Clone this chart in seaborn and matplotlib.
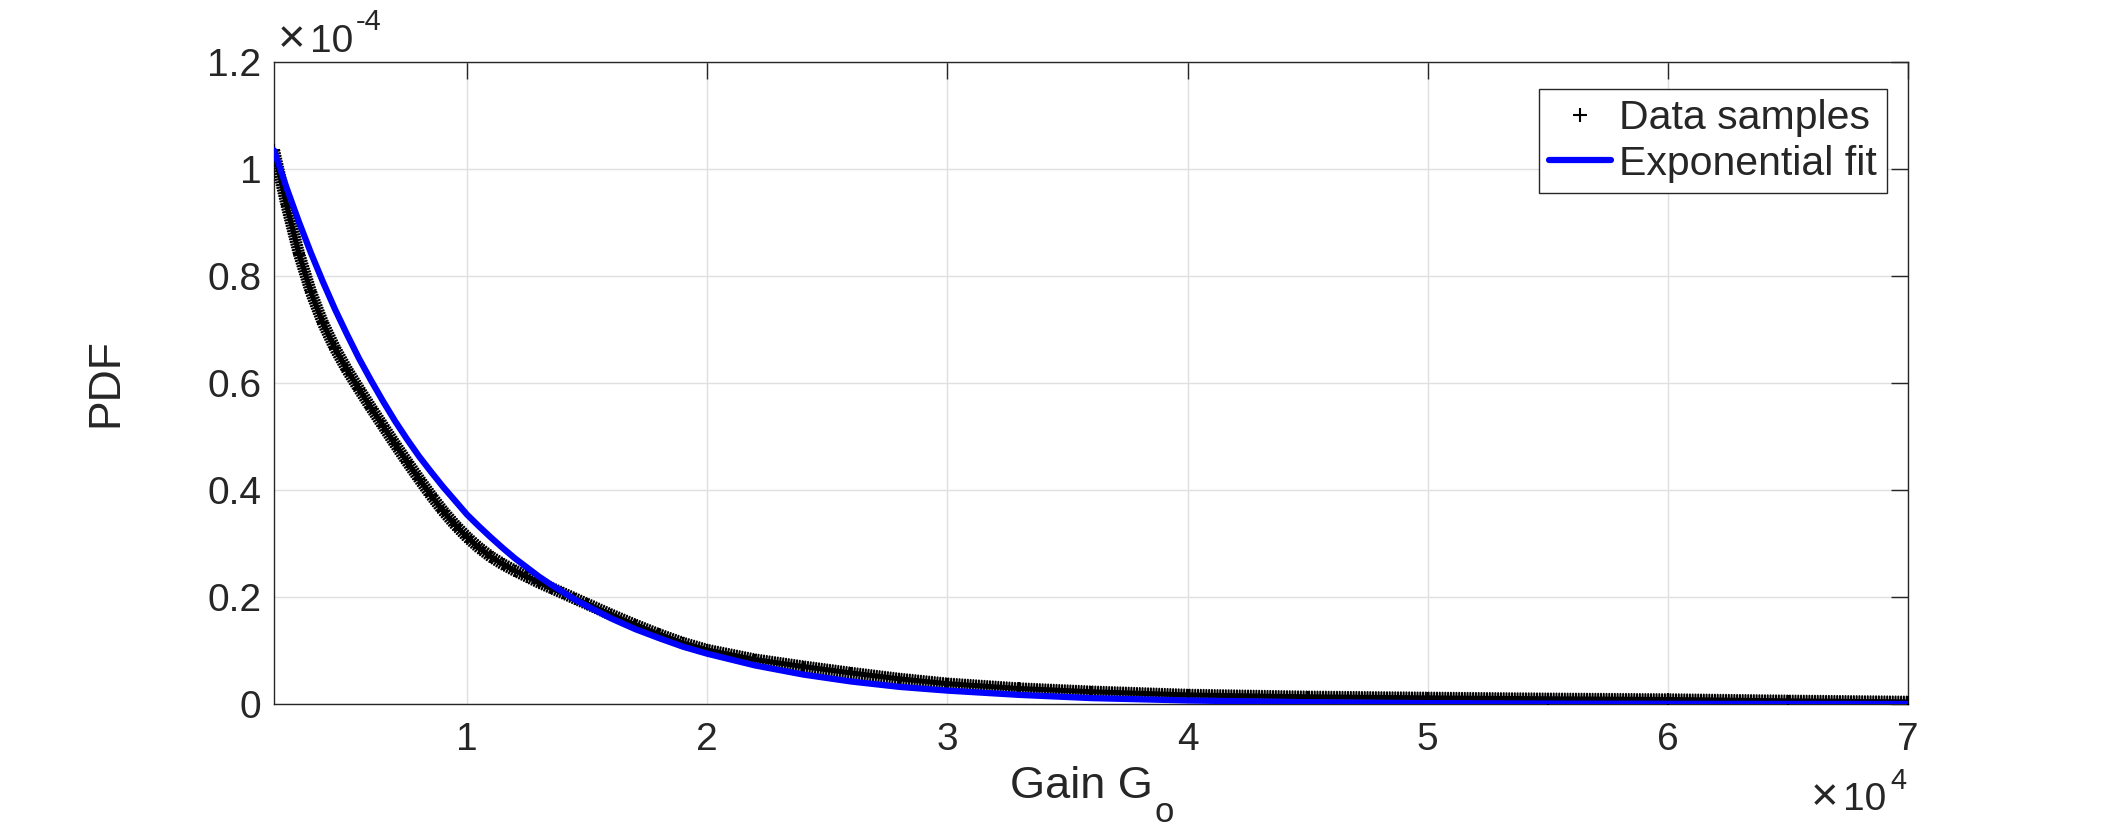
import numpy as np
import matplotlib
matplotlib.use("Agg")
import matplotlib.pyplot as plt
import matplotlib.patheffects as pe
from matplotlib.lines import Line2D
import seaborn as sns

# --- valores (ganancia lineal, PDF en unidades de 1e-4) ---
gain_samples = [1960, 2500, 3000, 3500, 4000, 4500, 5000, 5500, 6000, 6500,
                7000, 7500, 8000, 8500, 9000, 9500, 10000, 10500, 11000, 11500,
                12000, 12500, 13000, 13500, 14000, 14500, 15000, 16000, 17000, 18000,
                19000, 20000, 22000, 24000, 26000, 28000, 30000, 33000, 36000, 40000,
                45000, 50000, 55000, 60000, 65000, 70000]
pdf_samples_e4 = [1.035, 0.930, 0.842, 0.770, 0.712, 0.665, 0.625, 0.589, 0.554, 0.520,
                  0.486, 0.453, 0.421, 0.390, 0.361, 0.335, 0.312, 0.292, 0.275, 0.261,
                  0.249, 0.238, 0.227, 0.217, 0.207, 0.197, 0.187, 0.167, 0.148, 0.130,
                  0.114, 0.101, 0.083, 0.070, 0.058, 0.047, 0.038, 0.029, 0.023, 0.017,
                  0.0135, 0.0115, 0.0098, 0.0085, 0.006, 0.004]
pdf_fit_e4 = [1.035, 0.963, 0.901, 0.843, 0.789, 0.738, 0.691, 0.646, 0.605, 0.566,
              0.529, 0.495, 0.463, 0.434, 0.406, 0.380, 0.354, 0.332, 0.311, 0.291,
              0.272, 0.255, 0.238, 0.223, 0.209, 0.195, 0.183, 0.160, 0.140, 0.123,
              0.107, 0.094, 0.072, 0.055, 0.042, 0.032, 0.025, 0.017, 0.011, 0.0066,
              0.0034, 0.0017, 0.0009, 0.0005, 0.0002, 0.0001]

x_ticks = [1, 2, 3, 4, 5, 6, 7]            # x 1e4
x_tick_labels = ['1', '2', '3', '4', '5', '6', '7']
y_ticks = [0, 0.2, 0.4, 0.6, 0.8, 1.0, 1.2]  # x 1e-4
y_tick_labels = ['0', '0.2', '0.4', '0.6', '0.8', '1', '1.2']

pdf_samples = np.array(pdf_samples_e4) * 1e-4
pdf_fit = np.array(pdf_fit_e4) * 1e-4

# --- estilo tipo MATLAB ---
sns.set_style("white")
plt.rcParams['font.family'] = ['Liberation Sans', 'DejaVu Sans']

gris = '#262626'
fig = plt.figure(figsize=(21.09, 8.30), dpi=100)
ax = fig.add_axes([0.1299, 0.1518, 0.7748, 0.7735])

# banda de muestras: linea con marcas perpendiculares + cruces en los puntos leidos
sns.lineplot(x=gain_samples, y=pdf_samples, color='black', linewidth=1.5,
             errorbar=None, ax=ax, zorder=3,
             path_effects=[pe.Stroke(linewidth=3.6, foreground='black'),
                           pe.TickedStroke(spacing=2.0, angle=90, length=1.9),
                           pe.TickedStroke(spacing=2.0, angle=-90, length=1.9)])
sns.scatterplot(x=gain_samples, y=pdf_samples, marker='+', s=64, color='black',
                linewidth=1.5, ax=ax, zorder=3, legend=False)
sns.lineplot(x=gain_samples, y=pdf_fit, color='blue', linewidth=4.5,
             errorbar=None, ax=ax, zorder=4, solid_capstyle='round')

ax.set_xlim(1960, 70000)
ax.set_ylim(0, 1.2e-4)
ax.set_xticks(np.array(x_ticks) * 1e4)
ax.set_xticklabels(x_tick_labels)
ax.set_yticks(np.array(y_ticks) * 1e-4)
ax.set_yticklabels(y_tick_labels)

ax.set_axisbelow(True)
ax.grid(True, color='#e0e0e0', linewidth=1.0)
for s in ax.spines.values():
    s.set_visible(True)
    s.set_color(gris)
    s.set_linewidth(1.0)

ax.tick_params(axis='both', direction='in', length=12, width=1.0, colors=gris,
               labelsize=28, top=True, right=True)
ax.tick_params(axis='x', pad=13)
ax.tick_params(axis='y', pad=9)

# etiqueta x: "Gain G" y subindice "o" aparte (como en MATLAB)
ax.set_xlabel('Gain G', fontsize=32.5, color=gris, va='baseline')
ax.xaxis.set_label_coords(0.4942, -0.1464)
fig.text(1155 / 2109, 1 - 822 / 830, 'o', fontsize=25, color=gris,
         ha='left', va='baseline')
ax.set_ylabel('PDF', fontsize=32, color=gris)
ax.yaxis.set_label_coords(-0.0906, 0.5)

# factores de escala de los ejes
fig.text(278 / 2109, 1 - 52 / 830, '\u00d7', fontsize=34, color=gris,
         ha='left', va='baseline')
fig.text(310 / 2109, 1 - 52 / 830, '10', fontsize=28, color=gris,
         ha='left', va='baseline')
fig.text(356 / 2109, 1 - 30 / 830, '-4', fontsize=21, color=gris,
         ha='left', va='baseline')
fig.text(1811 / 2109, 1 - 810 / 830, '\u00d7', fontsize=34, color=gris,
         ha='left', va='baseline')
fig.text(1843 / 2109, 1 - 810 / 830, '10', fontsize=28, color=gris,
         ha='left', va='baseline')
fig.text(1890 / 2109, 1 - 789 / 830, '4', fontsize=21, color=gris,
         ha='left', va='baseline')

handles = [Line2D([], [], linestyle='none', marker='+', color='black',
                  markersize=10, markeredgewidth=1.5, label='Data samples'),
           Line2D([], [], color='blue', linewidth=4.5, label='Exponential fit')]
leg = ax.legend(handles=handles, loc='upper right', bbox_to_anchor=(0.9871, 0.958),
                borderaxespad=0, fontsize=29.5, frameon=True, fancybox=False,
                framealpha=1, edgecolor=gris, borderpad=0.25, labelspacing=0.18,
                handlelength=1.5, handletextpad=0.2)
leg.get_frame().set_linewidth(1.0)

fig.savefig('out.png', dpi=100, facecolor='white')
